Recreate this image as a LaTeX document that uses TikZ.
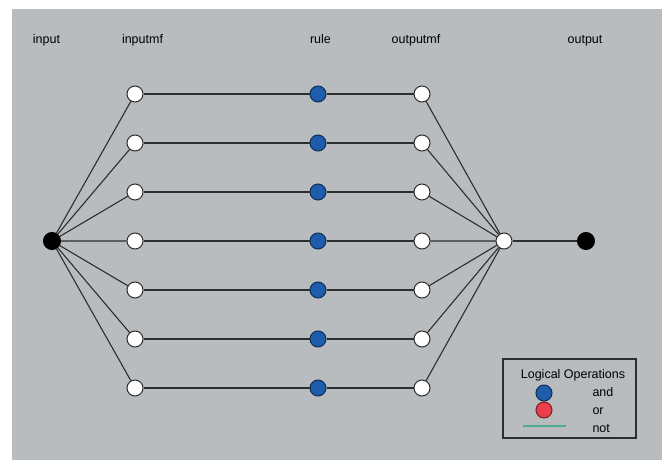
\documentclass[tikz,border=0pt]{standalone}
\usepackage{fontspec}
\setmainfont{Liberation Sans}
\definecolor{sfondo}{RGB}{185,188,191}
\definecolor{blu}{RGB}{30,92,172}
\definecolor{rosso}{RGB}{236,62,72}
\definecolor{verde}{RGB}{80,172,140}
\definecolor{linea}{RGB}{45,45,45}
\begin{document}
\begin{tikzpicture}[x=1pt, y=-1pt,
    every node/.style={circle, draw=linea, line width=1pt, inner sep=0pt, minimum size=16pt},
    nero/.style={fill=black, draw=black},
    bianco/.style={fill=white},
    regola/.style={fill=blu, draw=blu!50!black},
    etichetta/.style={draw=none, rectangle, minimum size=0pt, inner sep=0pt, font=\fontsize{12.5}{14}\selectfont},
    arco/.style={draw=linea, line width=1.1pt}]
      \useasboundingbox (0,0) rectangle (662,460);
      \fill[sfondo] (12,9) rectangle (662,460);

      % Titoli
      \node[etichetta, anchor=base] (Tin) at (46.5,44) {input};
      \node[etichetta, anchor=base] (Tinmf) at (142.5,44) {inputmf};
      \node[etichetta, anchor=base] (Trule) at (320.5,44) {rule};
      \node[etichetta, anchor=base] (Toutmf) at (416,44) {outputmf};
      \node[etichetta, anchor=base] (Tout) at (585,44) {output};

      % Ingresso e uscita
      \node (I) at (52,241) [nero, minimum size=17pt] {};
      \node (S) at (504,241) [bianco] {};
      \node (O) at (586,241) [nero, minimum size=17pt] {};

      % Livello inputmf
      \node (A1) at (135,94) [bianco] {};
      \node (A2) at (135,143) [bianco] {};
      \node (A3) at (135,192) [bianco] {};
      \node (A4) at (135,241) [bianco] {};
      \node (A5) at (135,290) [bianco] {};
      \node (A6) at (135,339) [bianco] {};
      \node (A7) at (135,388) [bianco] {};

      % Livello rule
      \node (R1) at (318,94) [regola] {};
      \node (R2) at (318,143) [regola] {};
      \node (R3) at (318,192) [regola] {};
      \node (R4) at (318,241) [regola] {};
      \node (R5) at (318,290) [regola] {};
      \node (R6) at (318,339) [regola] {};
      \node (R7) at (318,388) [regola] {};

      % Livello outputmf
      \node (B1) at (422,94) [bianco] {};
      \node (B2) at (422,143) [bianco] {};
      \node (B3) at (422,192) [bianco] {};
      \node (B4) at (422,241) [bianco] {};
      \node (B5) at (422,290) [bianco] {};
      \node (B6) at (422,339) [bianco] {};
      \node (B7) at (422,388) [bianco] {};

      % Collegamenti
      \draw[arco] (I) -- (A1) (I) -- (A2) (I) -- (A3) (I) -- (A4) (I) -- (A5) (I) -- (A6) (I) -- (A7);
      \draw[arco] (A1) -- (R1) (A2) -- (R2) (A3) -- (R3) (A4) -- (R4) (A5) -- (R5) (A6) -- (R6) (A7) -- (R7);
      \draw[arco] (R1) -- (B1) (R2) -- (B2) (R3) -- (B3) (R4) -- (B4) (R5) -- (B5) (R6) -- (B6) (R7) -- (B7);
      \draw[arco] (B1) -- (S) (B2) -- (S) (B3) -- (S) (B4) -- (S) (B5) -- (S) (B6) -- (S) (B7) -- (S);
      \draw[arco] (S) -- (O);

      % Legenda
      \draw[draw=linea, line width=1.2pt] (503,359) rectangle (636,438);
      \node[etichetta] (Ltit) at (573,375) {Logical Operations};
      \node (Lblu) at (544,393) [regola] {};
      \node[etichetta, anchor=west] (Land) at (592,392) {and};
      \node (Lrosso) at (544,410) [fill=rosso, draw=rosso!50!black] {};
      \node[etichetta, anchor=west] (Lor) at (592,411) {or};
      \coordinate (Vs) at (523,426);
      \coordinate (Vd) at (566,426);
      \draw[verde, line width=1.2pt] (Vs) -- (Vd);
      \node[etichetta, anchor=west] (Lnot) at (592,429) {not};
\end{tikzpicture}
\end{document}
